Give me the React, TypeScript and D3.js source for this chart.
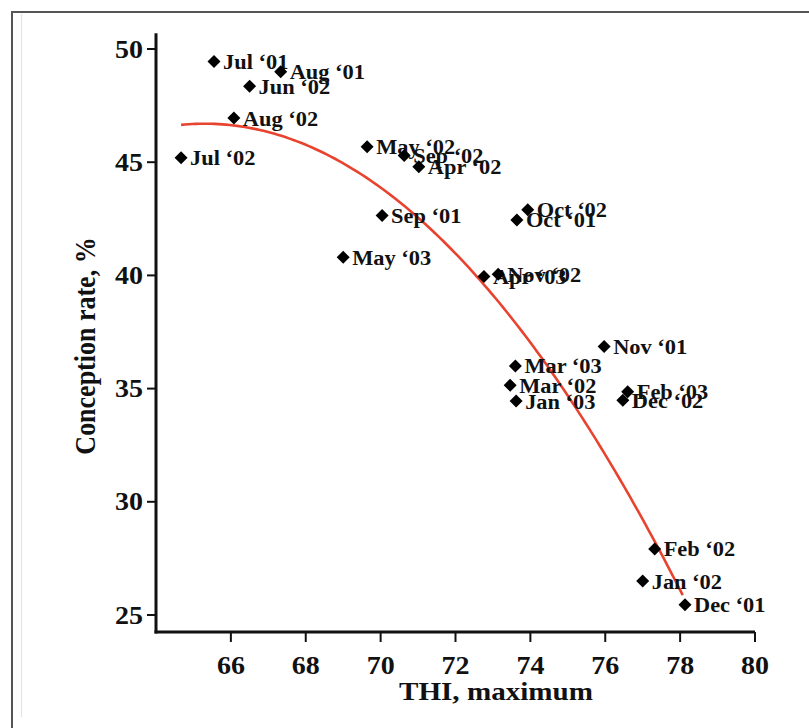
import React from "react";
import * as d3 from "d3";

const labels = ["Jul ‘01","Aug ‘01","Jun ‘02","Aug ‘02","Jul ‘02","May ‘02","Sep ‘02","Apr ‘02","Sep ‘01","May ‘03","Oct ‘02","Oct ‘01","Apr ‘03","Nov ‘02","Nov ‘01","Mar ‘03","Mar ‘02","Jan ‘03","Feb ‘03","Dec ‘02","Feb ‘02","Jan ‘02","Dec ‘01"];
const thi = [65.55,67.33,66.5,66.08,64.67,69.64,70.63,71.02,70.04,69.0,73.93,73.64,72.76,73.14,75.97,73.6,73.46,73.62,76.6,76.47,77.32,77.0,78.13];
const conception = [49.45,49.0,48.36,46.95,45.2,45.68,45.3,44.8,42.65,40.8,42.9,42.45,39.95,40.05,36.86,36.0,35.15,34.45,34.86,34.48,27.92,26.5,25.45];

const X_TICKS = [66,68,70,72,74,76,78,80];
const Y_TICKS = [25,30,35,40,45,50];
const X_DOMAIN = [64, 80];
const Y_AXIS_EXTENT = [24.25, 50.7];
// quadratic fit: y = peak - k * (x - vertex)^2, over the fitted THI range
const FIT_PEAK = 46.7;
const FIT_VERTEX = 65.3;
const FIT_K = 0.1277;
const FIT_RANGE = [64.67, 78.1];

const SX = 1.12;
const FONT = "'Liberation Serif', 'Times New Roman', serif";

export default function App() {
  const x = d3.scaleLinear().domain(X_DOMAIN).range([156, 755]);
  const y = d3.scaleLinear().domain([25, 50]).range([615, 49]);

  const fitPts = d3.range(FIT_RANGE[0], FIT_RANGE[1] + 0.001, 0.1).map((v) => [v, FIT_PEAK - FIT_K * (v - FIT_VERTEX) ** 2] as [number, number]);
  const line = d3.line<[number, number]>().x((d) => x(d[0])).y((d) => y(d[1])).curve(d3.curveLinear);

  const axisY0 = y(Y_AXIS_EXTENT[0]);
  const axisY1 = y(Y_AXIS_EXTENT[1]);
  const x0 = x(X_DOMAIN[0]);
  const x1 = x(X_DOMAIN[1]);

  const diamond = (cx: number, cy: number) => `M${cx},${cy - 6.5}L${cx + 6.5},${cy}L${cx},${cy + 6.5}L${cx - 6.5},${cy}Z`;

  return (
    <svg width={809} height={728} style={{ position: "absolute", left: 0, top: 0, background: "#fff" }} fontFamily={FONT}>
      <rect x={0} y={0} width={809} height={728} fill="#fff" />
      <rect x={12} y={12} width={830} height={760} fill="none" stroke="#555" strokeWidth={2} />
      <line x1={21.5} x2={21.5} y1={14} y2={717} stroke="#dcebd4" strokeWidth={1.2} />

      {/* axes */}
      <line x1={x0} x2={x0} y1={axisY1} y2={axisY0 + 1.5} stroke="#111" strokeWidth={3} />
      <line x1={x0 - 1.5} x2={x1} y1={axisY0} y2={axisY0} stroke="#111" strokeWidth={3} />

      {Y_TICKS.map((t) => (
        <g key={"y" + t}>
          <line x1={x0 - 9} x2={x0} y1={y(t)} y2={y(t)} stroke="#111" strokeWidth={2} />
          <text transform={`translate(${x0 - 13},${y(t) + 8.5}) scale(${SX},1)`} textAnchor="end" fontSize={25} fontWeight="bold" fill="#111">{t}</text>
        </g>
      ))}
      {X_TICKS.map((t) => (
        <g key={"x" + t}>
          <line x1={x(t)} x2={x(t)} y1={axisY0} y2={axisY0 + 10} stroke="#111" strokeWidth={2} />
          <text transform={`translate(${x(t)},${axisY0 + 42}) scale(${SX},1)`} textAnchor="middle" fontSize={25} fontWeight="bold" fill="#111">{t}</text>
        </g>
      ))}

      <text transform={`translate(496,700) scale(${SX},1)`} textAnchor="middle" fontSize={26} fontWeight="bold" fill="#111">THI, maximum</text>
      <text transform={`translate(95,346) scale(${SX},1) rotate(-90)`} textAnchor="middle" fontSize={26} fontWeight="bold" fill="#111">Conception rate, %</text>

      {/* fit curve */}
      <path d={line(fitPts) || ""} fill="none" stroke="#e8432e" strokeWidth={2.6} />

      {/* points */}
      {thi.map((v, i) => (
        <g key={"p" + i}>
          <path d={diamond(x(v), y(conception[i]))} fill="#000" />
          <text transform={`translate(${x(v) + 9},${y(conception[i]) + 7.5}) scale(${SX},1)`} fontSize={20} fontWeight="bold" fill="#111">{labels[i]}</text>
        </g>
      ))}
    </svg>
  );
}
